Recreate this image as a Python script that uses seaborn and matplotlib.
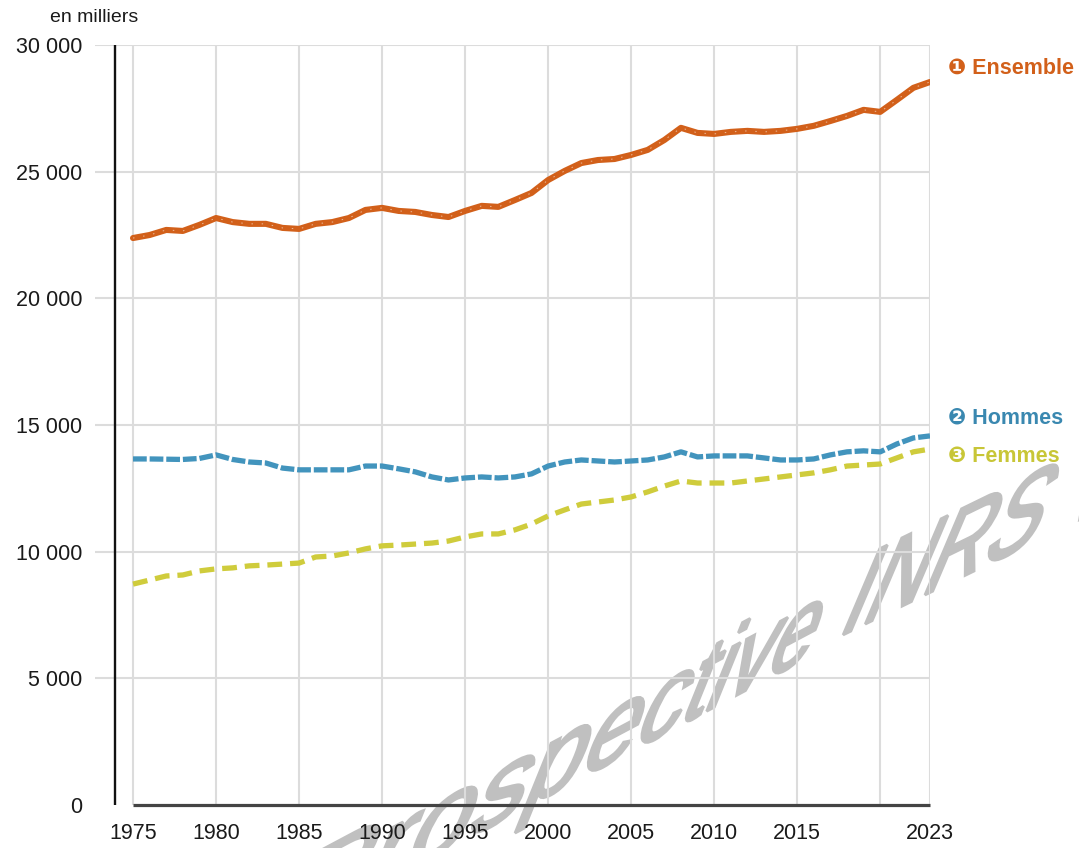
import numpy as np
import pandas as pd
import matplotlib
matplotlib.use("Agg")
import matplotlib.pyplot as plt
import matplotlib.transforms as mtransforms
from matplotlib.textpath import TextPath
from matplotlib.path import Path
from matplotlib.patches import PathPatch
from matplotlib.font_manager import FontProperties
import seaborn as sns

# ---------------- data ----------------
years = list(range(1975, 2024))
ensemble = [22380, 22500, 22700, 22660, 22900, 23170, 23010, 22940, 22940, 22780,
            22740, 22940, 23010, 23170, 23490, 23570, 23450, 23410, 23290, 23210,
            23450, 23650, 23610, 23880, 24160, 24670, 25030, 25340, 25460, 25500,
            25660, 25860, 26250, 26730, 26530, 26490, 26570, 26610, 26570, 26610,
            26690, 26810, 27000, 27200, 27440, 27360, 27830, 28310, 28540]
hommes = [13660, 13660, 13650, 13640, 13680, 13820, 13640, 13540, 13500, 13300,
          13230, 13230, 13230, 13230, 13380, 13380, 13270, 13150, 12950, 12830,
          12910, 12950, 12910, 12950, 13070, 13380, 13540, 13620, 13580, 13540,
          13580, 13620, 13740, 13940, 13740, 13780, 13780, 13780, 13700, 13620,
          13620, 13660, 13820, 13940, 13980, 13940, 14250, 14490, 14570]
femmes = [8720, 8880, 9040, 9080, 9240, 9320, 9360, 9440, 9470, 9510,
          9550, 9790, 9830, 9950, 10110, 10230, 10260, 10300, 10340, 10420,
          10580, 10700, 10700, 10860, 11090, 11410, 11650, 11880, 11960, 12040,
          12160, 12360, 12590, 12790, 12710, 12710, 12710, 12790, 12870, 12950,
          13030, 13110, 13230, 13380, 13420, 13460, 13700, 13940, 14050]

series_names = ["Ensemble", "Hommes", "Femmes"]
series_marks = ["\u2776", "\u2777", "\u2778"]
x_tick_years = [1975, 1980, 1985, 1990, 1995, 2000, 2005, 2010, 2015, 2023]
x_minor_years = [2020]
y_ticks = [0, 5000, 10000, 15000, 20000, 25000, 30000]
y_unit = "en milliers"
label_y = [29090, 15280, 13780]
watermark_words = ["Prospective", "INRS Veille"]

# ---------------- style ----------------
sns.set_theme(style="white")
plt.rcParams["font.family"] = ["Liberation Sans", "DejaVu Sans"]

c_ens = "#d2601a"
c_hom = "#4294bd"
c_fem = "#cfcc3c"
lab_colors = ["#d2601a", "#3a88b0", "#c8c637"]

fig = plt.figure(figsize=(10.79, 8.48), dpi=100)
W, H = 1079, 848
ax = fig.add_axes([95 / W, (H - 805) / H, (930 - 95) / W, (805 - 45) / H])
ax.patch.set_alpha(0)

df = pd.DataFrame({"annee": years, "Ensemble": ensemble,
                   "Hommes": hommes, "Femmes": femmes})

sns.lineplot(data=df, x="annee", y="Hommes", ax=ax, color=c_hom, lw=3.8,
             linestyle=(0, (2.6, 0.55)), zorder=4)
sns.lineplot(data=df, x="annee", y="Femmes", ax=ax, color=c_fem, lw=3.8,
             linestyle=(0, (2.8, 1.5)), zorder=4)
sns.lineplot(data=df, x="annee", y="Ensemble", ax=ax, color=c_ens, lw=4.4,
             zorder=4)
sns.lineplot(data=df, x="annee", y="Ensemble", ax=ax, color="white", lw=0.7,
             alpha=0.55, linestyle=(0, (1.5, 9)), zorder=5)

ax.set_xlim(1972.71, 2023)
ax.set_ylim(0, 30000)
ax.set_xlabel("")
ax.set_ylabel("")

ax.set_xticks(x_tick_years)
ax.set_xticklabels([str(y) for y in x_tick_years])
ax.set_xticks(x_minor_years, minor=True)
ax.set_yticks(y_ticks)
ax.set_yticklabels([f"{v:,}".replace(",", " ") for v in y_ticks])

ax.tick_params(axis="both", which="both", length=0, labelsize=15.5,
               colors="#1a1a1a")
ax.tick_params(axis="x", pad=13)
ax.tick_params(axis="y", pad=9)

ax.grid(True, which="major", axis="y", color="#dcdcdc", lw=1.5, zorder=0)
ax.grid(True, which="both", axis="x", color="#dcdcdc", lw=1.5, zorder=0)
for s in ax.spines.values():
    s.set_visible(False)
ygl = ax.yaxis.get_gridlines()
ygl[0].set_visible(False)

# axis lines
ax.axvline(1973.92, color="#111111", lw=1.7, zorder=6)
ax.hlines(0, years[0], years[-1], color="#444444", lw=2.3, zorder=6,
          clip_on=False)

# unit label
fig.text(50 / W, 1 - 18 / H, y_unit, fontsize=14, color="#1a1a1a",
         va="center", ha="left")

# series labels
for name, mark, yv, col in zip(series_names, series_marks, label_y, lab_colors):
    ax.text(2024.1, yv, f"{mark} {name}", color=col, fontsize=15.5,
            fontweight="bold", va="center", ha="left", clip_on=False,
            family=["Liberation Sans", "DejaVu Sans"])

# watermark (skewed text with slight perspective, under the axes content)
fp = FontProperties(family="Liberation Sans")


def skew_patch(text, anchor_u, anchor_img, su, sv, a_deg, b_deg, k=0.0):
    tp = TextPath((0, 0), text, size=1, prop=fp)
    verts = tp.vertices.copy()
    if k:
        verts[:, 0] = verts[:, 0] / (1 + k * verts[:, 0])
        anchor_u = anchor_u / (1 + k * anchor_u)
    a, b = np.radians(a_deg), np.radians(b_deg)
    A = np.array([[su * np.cos(a), sv * np.cos(b)],
                  [su * np.sin(a), sv * np.sin(b)]])
    anchor = np.array([anchor_img[0], H - anchor_img[1]])
    origin = anchor - A @ np.array([anchor_u, 0.0])
    pts = verts @ A.T + origin
    path = Path(pts, tp.codes)
    return PathPatch(path, transform=mtransforms.IdentityTransform(),
                     facecolor="#c0c0c0", edgecolor="#c0c0c0", lw=2.0,
                     zorder=-1)


w1 = TextPath((0, 0), watermark_words[0], size=1, prop=fp).get_extents().x1
ext_I = TextPath((0, 0), "I", size=1, prop=fp).get_extents()
uI = 0.5 * (ext_I.x0 + ext_I.x1)
k1 = 0.06
su1 = 116 * w1 / (w1 / (1 + k1 * w1))
fig.add_artist(skew_patch(watermark_words[0], w1, (803, 660), su1, 132, 28, 68, k1))
fig.add_artist(skew_patch(watermark_words[1], uI, (847, 633), 92, 136, 26, 67))

fig.savefig("out.png", dpi=100)
